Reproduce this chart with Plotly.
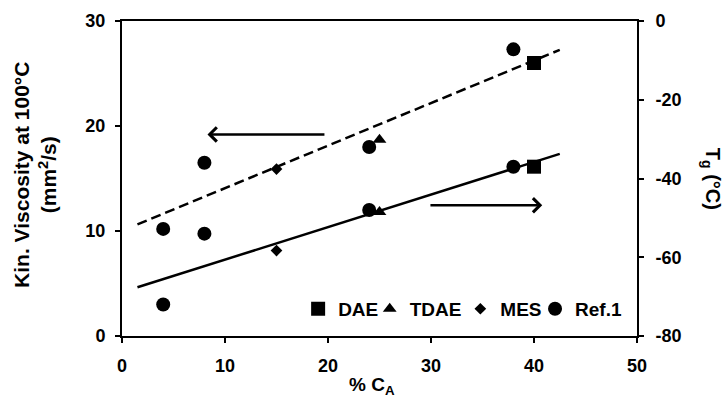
import numpy as np
import plotly.graph_objects as go

# % aromatic carbon (C_A) of each oil
dae_ca = [40]
tdae_ca = [25]
mes_ca = [15]
ref1_ca = [4, 8, 24, 38]

# Kinematic viscosity at 100 °C (mm²/s)
dae_visc = [26.0]
tdae_visc = [18.7]
mes_visc = [15.9]
ref1_visc = [10.2, 16.5, 18.0, 27.3]

# Glass transition temperature Tg (°C)
dae_tg = [-37.0]
tdae_tg = [-48.5]
mes_tg = [-58.3]
ref1_tg = [-72.0, -54.0, -48.0, -37.0]

# Tick values and labels
x_ticks = [0, 10, 20, 30, 40, 50]
visc_ticks = [0, 10, 20, 30]
tg_ticks = [-80, -60, -40, -20, 0]

FONT = "Liberation Sans, Arial, sans-serif"
BLACK = "#000000"

# name, data, marker symbol, marker size, legend id, legend left edge (paper x)
groups = [
    ("DAE", dae_ca, dae_visc, dae_tg, "square", 14, "legend", 0.342),
    ("TDAE", tdae_ca, tdae_visc, tdae_tg, "triangle-up", 12, "legend2", 0.481),
    ("MES", mes_ca, mes_visc, mes_tg, "diamond", 9, "legend3", 0.657),
    ("Ref.1", ref1_ca, ref1_visc, ref1_tg, "circle", 14, "legend4", 0.802),
]

all_ca = np.array(dae_ca + tdae_ca + mes_ca + ref1_ca, dtype=float)
all_visc = np.array(dae_visc + tdae_visc + mes_visc + ref1_visc)
all_tg = np.array(dae_tg + tdae_tg + mes_tg + ref1_tg)

# Linear trend lines, extended 2.5 units beyond the data on both sides
forecast = 2.5
x_fit = np.array([all_ca.min() - forecast, all_ca.max() + forecast])
visc_fit = np.polyval(np.polyfit(all_ca, all_visc, 1), x_fit)
tg_fit = np.polyval(np.polyfit(all_ca, all_tg, 1), x_fit)

fig = go.Figure()

fig.add_trace(go.Scatter(x=x_fit, y=visc_fit, mode="lines", yaxis="y",
                         line=dict(color=BLACK, width=2.5, dash="10px,5px"),
                         showlegend=False, hoverinfo="skip"))
fig.add_trace(go.Scatter(x=x_fit, y=tg_fit, mode="lines", yaxis="y2",
                         line=dict(color=BLACK, width=2.5),
                         showlegend=False, hoverinfo="skip"))

legend_layouts = {}
for name, ca, visc, tg, symbol, size, legend_id, legend_x in groups:
    fig.add_trace(go.Scatter(x=ca, y=visc, mode="markers", name=f"<b>{name}</b>", yaxis="y",
                             marker=dict(symbol=symbol, size=size, color=BLACK),
                             legendgroup=name, legend=legend_id, showlegend=True))
    fig.add_trace(go.Scatter(x=ca, y=tg, mode="markers", name=name, yaxis="y2",
                             marker=dict(symbol=symbol, size=size, color=BLACK),
                             legendgroup=name, showlegend=False))
    legend_layouts[legend_id] = dict(
        orientation="h", x=legend_x, xanchor="left", y=0.086, yanchor="middle",
        bgcolor="rgba(0,0,0,0)", font=dict(family=FONT, size=19, color=BLACK),
        itemwidth=30)


def bold(vals):
    return [f"<b>{v}</b>" for v in vals]


tick_font = dict(family=FONT, size=18, color=BLACK)
axis_common = dict(showline=True, linecolor=BLACK, linewidth=2, ticks="outside",
                   ticklen=5, tickwidth=2, tickcolor=BLACK, showgrid=False,
                   zeroline=False, tickfont=tick_font, tickmode="array")

fig.update_layout(
    width=724, height=400,
    margin=dict(l=122, r=87, t=21, b=64),
    paper_bgcolor="white", plot_bgcolor="white",
    font=dict(family=FONT, color=BLACK),
    xaxis=dict(range=[0, 50], tickvals=x_ticks, ticktext=bold(x_ticks), mirror=True,
               ticklabelstandoff=7, **axis_common),
    yaxis=dict(range=[0, 30], tickvals=visc_ticks, ticktext=bold(visc_ticks),
               ticklabelstandoff=6, **axis_common),
    yaxis2=dict(range=[-80, 0], tickvals=tg_ticks, ticktext=bold(tg_ticks),
                overlaying="y", side="right", ticklabelstandoff=8, **axis_common),
    showlegend=True,
    **legend_layouts,
)

annotations = [
    # axis titles
    dict(text="<b>Kin. Viscosity at 100°C<br>(mm<sup>2</sup>/s)</b>", xref="paper", yref="paper",
         x=-0.168, y=0.513, xanchor="center", yanchor="middle", textangle=-90,
         showarrow=False, font=dict(family=FONT, size=21, color=BLACK)),
    dict(text="<b>T<sub>g</sub> (°C)</b>", xref="paper", yref="paper",
         x=1.145, y=0.50, xanchor="center", yanchor="middle", textangle=90,
         showarrow=False, font=dict(family=FONT, size=20, color=BLACK)),
    dict(text="<b>% C<sub>A</sub></b>", xref="paper", yref="paper",
         x=0.485, y=-0.16, xanchor="center", yanchor="middle",
         showarrow=False, font=dict(family=FONT, size=19, color=BLACK)),
    # arrows pointing to the axis each trend line belongs to
    dict(x=8.3, y=19.2, ax=19.8, ay=19.2, xref="x", yref="y", axref="x", ayref="y",
         text="", showarrow=True, arrowhead=4, arrowsize=1.1, arrowwidth=2.5,
         arrowcolor=BLACK, standoff=0),
    dict(x=40.8, y=-46.8, ax=29.8, ay=-46.8, xref="x", yref="y2", axref="x", ayref="y2",
         text="", showarrow=True, arrowhead=4, arrowsize=1.1, arrowwidth=2.5,
         arrowcolor=BLACK, standoff=0),
]
fig.update_layout(annotations=annotations)

fig.write_html("out.html")
